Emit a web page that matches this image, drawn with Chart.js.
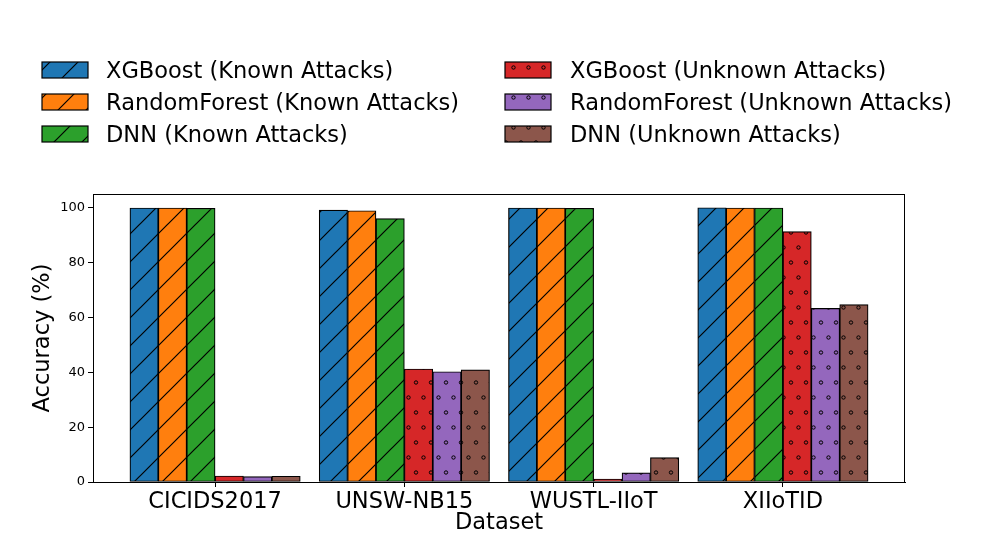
<!DOCTYPE html>
<html><head><meta charset="utf-8">
<script src="https://cdn.jsdelivr.net/npm/chart.js@4.4.0/dist/chart.umd.min.js"></script>
<style>html,body{margin:0;padding:0;background:#fff;} #wrap{width:996px;height:544px;position:relative}</style>
</head><body><div id="wrap"><canvas id="c" width="996" height="544"></canvas></div>
<script>
const categories = ['CICIDS2017', 'UNSW-NB15', 'WUSTL-IIoT', 'XIIoTID'];
const seriesNames = ['XGBoost (Known Attacks)', 'RandomForest (Known Attacks)', 'DNN (Known Attacks)',
                     'XGBoost (Unknown Attacks)', 'RandomForest (Unknown Attacks)', 'DNN (Unknown Attacks)'];
const xgbKnown   = [99.9, 99.1, 99.9, 100.0];
const rfKnown    = [99.9, 98.9, 99.9, 99.9];
const dnnKnown   = [99.8, 96.0, 99.8, 99.9];
const xgbUnknown = [2.2, 41.2, 1.1, 91.3];
const rfUnknown  = [2.0, 40.2, 3.3, 63.3];
const dnnUnknown = [2.1, 40.9, 8.9, 64.7];
const yTicks = [0, 20, 40, 60, 80, 100];

const colors = ['#1f77b4', '#ff7f0e', '#2ca02c', '#d62728', '#9467bd', '#8c564b'];
const hatches = ['/', '/', '/', 'o', 'o', 'o'];
const allSeries = [xgbKnown, rfKnown, dnnKnown, xgbUnknown, rfUnknown, dnnUnknown];
const FONT = 'DejaVu Sans';
const barW = 0.15;

function makePattern(color, hatch) {
  const t = document.createElement('canvas');
  let w, h;
  if (hatch === '/') { w = 28; h = 28; } else { w = 15; h = 30; }
  t.width = w; t.height = h;
  const g = t.getContext('2d');
  g.fillStyle = color; g.fillRect(0, 0, w, h);
  g.strokeStyle = '#000'; g.lineWidth = 1.2;
  if (hatch === '/') {
    g.beginPath();
    g.moveTo(-2, h + 2); g.lineTo(w + 2, -2);
    g.moveTo(-2 - w, h + 2); g.lineTo(2, -2);
    g.moveTo(w - 2, h + 2); g.lineTo(2 * w + 2, -2);
    g.stroke();
  } else {
    g.lineWidth = 1;
    [[3.5, 7.5], [11, 22.5]].forEach(([cx, cy]) => {
      g.beginPath(); g.arc(cx, cy, 1.7, 0, Math.PI * 2); g.stroke();
    });
  }
  return g.createPattern(t, 'repeat');
}
const patterns = colors.map((c, i) => makePattern(c, hatches[i]));

const datasets = allSeries.map((vals, i) => ({
  label: seriesNames[i],
  data: vals.map((v, j) => ({ x: j + (i - 2.5) * barW, y: v })),
  backgroundColor: patterns[i],
  borderColor: '#000',
  borderWidth: 1.2,
  borderSkipped: false,
  grouped: false,
  categoryPercentage: 1,
  barPercentage: 1
}));

const framePlugin = {
  id: 'frame',
  afterDraw(chart) {
    const { ctx, chartArea: a } = chart;
    ctx.save();
    ctx.strokeStyle = '#000'; ctx.lineWidth = 1;
    ctx.strokeRect(Math.round(a.left) + 0.5, Math.round(a.top) + 0.5, Math.round(a.right - a.left) - 1, Math.round(a.bottom - a.top));
    ctx.restore();
  }
};

const legendPlugin = {
  id: 'mplLegend',
  afterDraw(chart) {
    const ctx = chart.ctx;
    ctx.save();
    ctx.font = '22.5px "' + FONT + '"';
    ctx.fillStyle = '#000';
    ctx.textBaseline = 'alphabetic';
    const cols = [{ px: 42, tx: 106 }, { px: 505, tx: 570 }];
    for (let i = 0; i < 6; i++) {
      const col = cols[Math.floor(i / 3)];
      const row = i % 3;
      const top = 62 + row * 32;
      ctx.fillStyle = patterns[i];
      ctx.fillRect(col.px, top, 46, 16);
      ctx.strokeStyle = '#000'; ctx.lineWidth = 1.2;
      ctx.strokeRect(col.px, top, 46, 16);
      ctx.fillStyle = '#000';
      ctx.fillText(seriesNames[i], col.tx, top + 16.3);
    }
    ctx.restore();
  }
};

new Chart(document.getElementById('c'), {
  type: 'bar',
  data: { datasets },
  options: {
    responsive: false, animation: false, devicePixelRatio: 1,
    layout: { padding: { left: 0, right: 91, top: 194, bottom: 0 } },
    plugins: { legend: { display: false }, tooltip: { enabled: false } },
    scales: {
      x: {
        type: 'linear', min: -0.645, max: 3.645, offset: false,
        afterBuildTicks: s => { s.ticks = categories.map((_, i) => ({ value: i })); },
        afterFit: s => { s.height = 62; },
        ticks: { callback: v => categories[v] ?? '', font: { family: FONT, size: 22.5 }, color: '#000', padding: 2, autoSkip: false, maxRotation: 0 },
        grid: { display: true, offset: false, drawOnChartArea: false, drawTicks: true, tickLength: 5, tickColor: '#000', tickWidth: 1 },
        border: { display: true, color: '#000', width: 1 },
        title: { display: true, text: 'Dataset', font: { family: FONT, size: 22.5 }, color: '#000', padding: { top: 0, bottom: 7 } }
      },
      y: {
        min: 0, max: 105,
        afterBuildTicks: s => { s.ticks = yTicks.map(v => ({ value: v })); },
        afterFit: s => { s.width = 93; },
        ticks: { font: { family: FONT, size: 13 }, color: '#000', padding: 3 },
        grid: { display: true, offset: false, drawOnChartArea: false, drawTicks: true, tickLength: 5, tickColor: '#000', tickWidth: 1 },
        border: { display: true, color: '#000', width: 1 },
        title: { display: true, text: 'Accuracy (%)', font: { family: FONT, size: 22.5 }, color: '#000', padding: { top: 30, bottom: 0 } }
      }
    }
  },
  plugins: [framePlugin, legendPlugin]
});
</script>
</body></html>
